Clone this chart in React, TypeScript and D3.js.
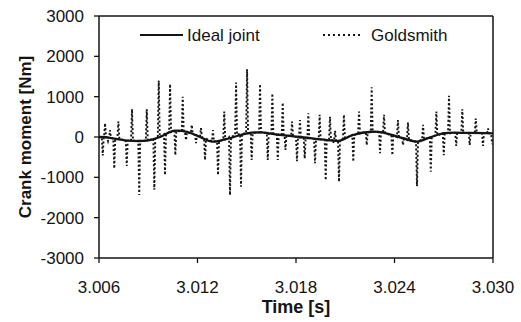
import React from "react";
import * as d3 from "d3";

const xTickLabels = ["3.006", "3.012", "3.018", "3.024", "3.030"];
const yTickValues = [-3000, -2000, -1000, 0, 1000, 2000, 3000];

const idealTime = [3.006, 3.00667, 3.00777, 3.00892, 3.00972, 3.01051, 3.01136, 3.01215, 3.01288, 3.01368, 3.01502, 3.01593, 3.01703, 3.01824, 3.01989, 3.02068, 3.02147, 3.02263, 3.02324, 3.02452, 3.02537, 3.02604, 3.02695, 3.0286, 3.03];
const idealMoment = [0, -20, -90, -90, 0, 150, 130, 0, -115, -60, 90, 115, 50, 0, -75, -90, 50, 130, 115, -30, -115, -30, 90, 100, 90];

// Goldsmith: spike times, spike extremes and the level the trace returns to between spikes
const goldTime = [3.00623, 3.00637, 3.00655, 3.00667, 3.00693, 3.00718, 3.00769, 3.00801, 3.00845, 3.00891, 3.00937, 3.00964, 3.01002, 3.01033, 3.01065, 3.0111, 3.0113, 3.01165, 3.01191, 3.01221, 3.01246, 3.01294, 3.01325, 3.01363, 3.01398, 3.01435, 3.01465, 3.01502, 3.0153, 3.01581, 3.01628, 3.01656, 3.01689, 3.01719, 3.01736, 3.01776, 3.01806, 3.01824, 3.01853, 3.01875, 3.01916, 3.01944, 3.01981, 3.02007, 3.02026, 3.02038, 3.02062, 3.02092, 3.02149, 3.02184, 3.02231, 3.02261, 3.02312, 3.02336, 3.02387, 3.02421, 3.02452, 3.02482, 3.02537, 3.02574, 3.02621, 3.02655, 3.027, 3.02732, 3.02776, 3.02813, 3.02858, 3.02895, 3.02939, 3.0297, 3.02995];
const goldMoment = [-460, 340, -100, 170, -780, 380, -720, 690, -1440, 690, -1310, 1400, -940, 1310, -450, 1000, -80, 300, -150, 220, -570, 170, -940, 630, -1440, 1350, -1230, 1680, -570, 1310, -570, 1080, -570, 850, -320, 380, -600, 420, -530, 590, -650, 550, -1070, 500, -150, 150, -1110, 550, -610, 630, -200, 1230, -400, 550, -450, 420, -200, 360, -1220, 300, -860, 630, -450, 1020, -220, 690, -200, 460, -220, 210, -180];
const goldBase = [0, 0, -10, -20, -40, -50, -90, -90, -90, -90, -40, 0, 70, 120, 150, 140, 120, 90, 40, 0, -40, -110, -110, -60, 0, 50, 80, 90, 100, 115, 100, 80, 60, 50, 40, 20, 0, -10, -20, -30, -50, -60, -75, -80, -85, -90, -90, -30, 50, 90, 120, 130, 115, 100, 40, 0, -30, -70, -115, -60, -10, 40, 90, 95, 100, 100, 100, 95, 95, 90, 60];

const W = 521;
const H = 322;
const L = 99, R = 493, T = 16, B = 258;
const FONT = "'Liberation Sans', Arial, sans-serif";
const INK = "#141414";
const SPIKE_HALF = 0.00006;

export default function App() {
  const x = d3.scaleLinear().domain([3.006, 3.03]).range([L, R]);
  const y = d3.scaleLinear().domain([-3000, 3000]).range([B, T]);

  const ideal = idealTime.map((t, i) => [t, idealMoment[i]] as [number, number]);
  const gold: [number, number][] = [[3.006, 0]];
  goldTime.forEach((t, i) => {
    gold.push([t - SPIKE_HALF, goldBase[i]]);
    gold.push([t, goldMoment[i]]);
    if (t + SPIKE_HALF <= 3.03) gold.push([t + SPIKE_HALF, goldBase[i]]);
  });

  const smooth = d3
    .line<[number, number]>()
    .x((d) => x(d[0]))
    .y((d) => y(d[1]))
    .curve(d3.curveCatmullRom.alpha(0.5));
  const straight = d3
    .line<[number, number]>()
    .x((d) => x(d[0]))
    .y((d) => y(d[1]));

  return (
    <svg
      width={W}
      height={H}
      style={{ position: "absolute", left: 0, top: 0, background: "#fff" }}
      fontFamily={FONT}
    >
      <rect x={0} y={0} width={W} height={H} fill="#fff" />
      {/* series */}
      <path d={straight(gold) || ""} fill="none" stroke={INK} strokeWidth={1.9} strokeDasharray="2,2.2" />
      <path d={smooth(ideal) || ""} fill="none" stroke={INK} strokeWidth={2.3} />

      {/* frame */}
      <line x1={L} y1={T} x2={R} y2={T} stroke={INK} strokeWidth={1.5} />
      <line x1={R} y1={T} x2={R} y2={B} stroke={INK} strokeWidth={1.5} />
      <line x1={L} y1={T} x2={L} y2={B} stroke={INK} strokeWidth={1.5} />
      <line x1={L} y1={B} x2={R} y2={B} stroke={INK} strokeWidth={1.5} />

      {/* y axis */}
      {yTickValues.map((v) => (
        <g key={v}>
          <line x1={L - 5} x2={L} y1={y(v)} y2={y(v)} stroke={INK} strokeWidth={1.3} />
          <text x={L - 15} y={y(v)} dy="0.36em" textAnchor="end" fontSize={17} fill={INK}>
            {String(v)}
          </text>
        </g>
      ))}
      {/* x axis */}
      {xTickLabels.map((s) => (
        <g key={s}>
          <line x1={x(+s)} x2={x(+s)} y1={B} y2={B + 5} stroke={INK} strokeWidth={1.3} />
          <text x={x(+s)} y={293} textAnchor="middle" fontSize={17} fill={INK}>
            {s}
          </text>
        </g>
      ))}

      {/* titles */}
      <text x={(L + R) / 2} y={313} textAnchor="middle" fontSize={18} fontWeight="bold" fill={INK}>
        Time [s]
      </text>
      <text
        transform={`translate(31,${(T + B) / 2}) rotate(-90)`}
        textAnchor="middle"
        fontSize={17}
        fontWeight="bold"
        fill={INK}
      >
        Crank moment [Nm]
      </text>

      {/* legend */}
      <line x1={140} x2={183} y1={35} y2={35} stroke={INK} strokeWidth={2} />
      <text x={187} y={41} fontSize={17} fill={INK}>Ideal joint</text>
      <line x1={323} x2={362} y1={35} y2={35} stroke={INK} strokeWidth={1.8} strokeDasharray="2,3" />
      <text x={371} y={41} fontSize={17} fill={INK}>Goldsmith</text>
    </svg>
  );
}
